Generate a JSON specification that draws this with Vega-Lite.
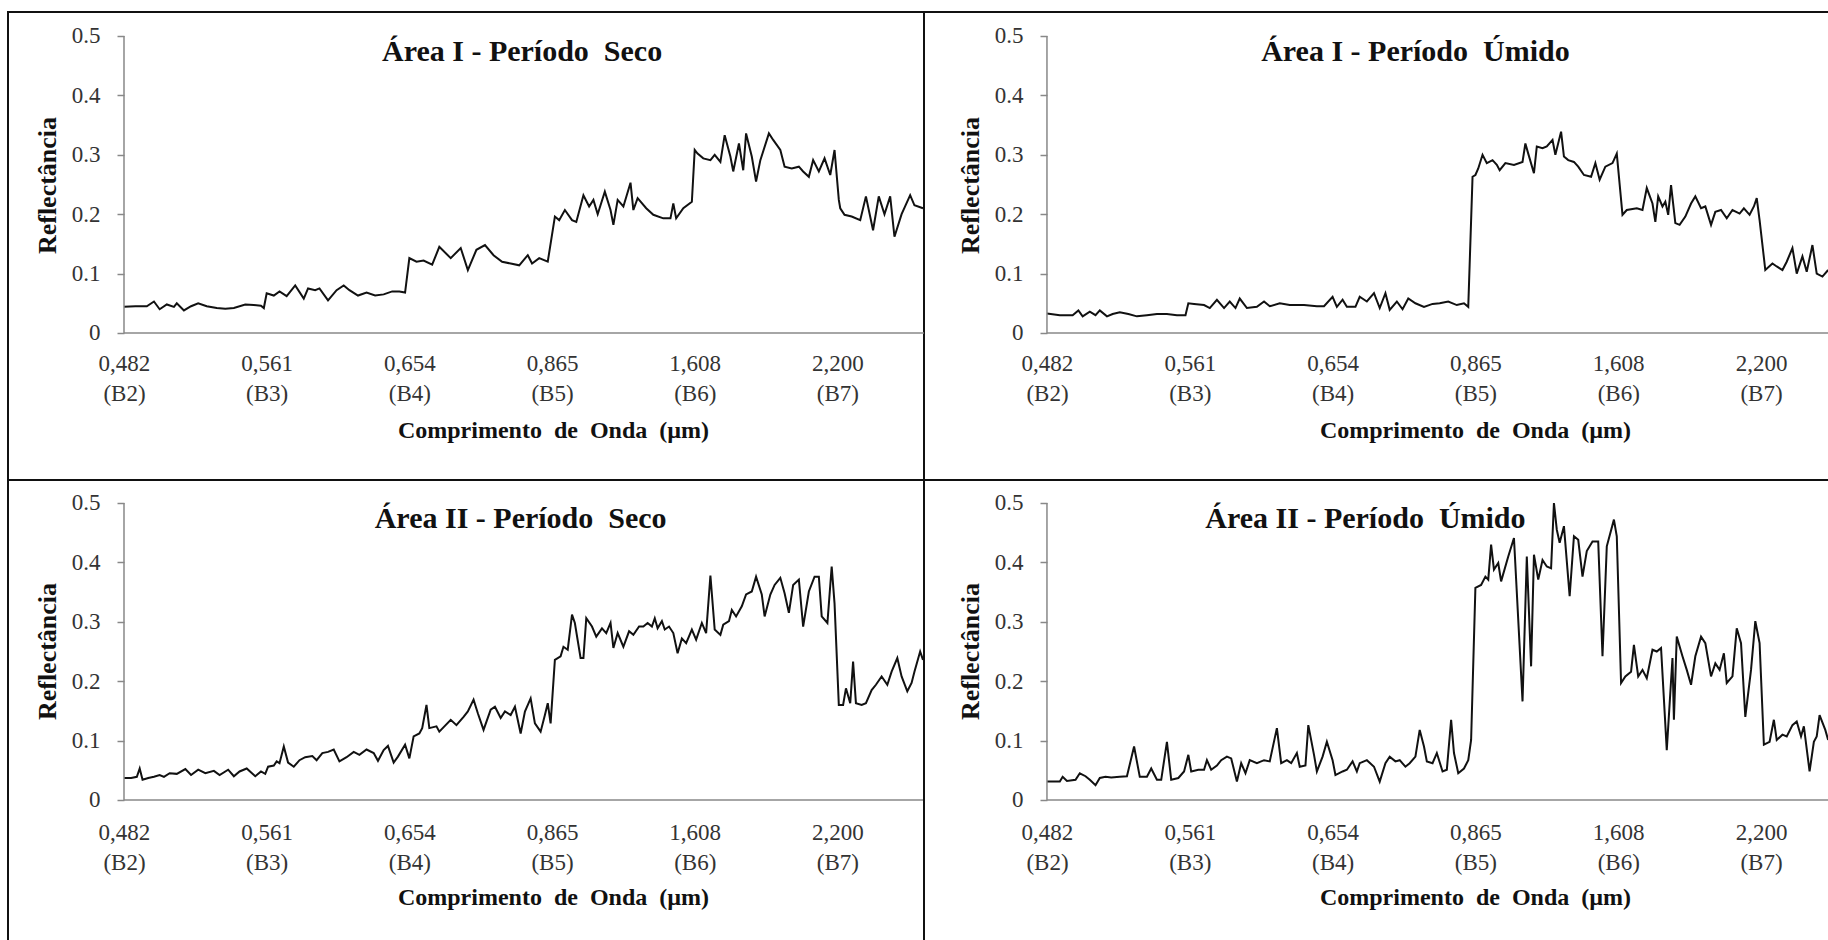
{
  "$schema": "https://vega.github.io/schema/vega-lite/v6.json",
  "background": "white",
  "padding": {"left": 7, "top": 11, "right": 0, "bottom": 0},
  "config": {
    "view": {"stroke": null},
    "font": "Liberation Serif",
    "axis": {"labelFont": "Liberation Serif", "labelFontSize": 23, "labelColor": "#333333", "titleFont": "Liberation Serif", "titleFontWeight": "bold", "titleColor": "#111111", "grid": false, "domain": false}
  },
  "datasets": {
    "spec": [
      {"p":"A","x":0.00,"y":0.044},{"p":"A","x":0.08,"y":0.045},{"p":"A","x":0.16,"y":0.045},{"p":"A","x":0.21,"y":0.053},{"p":"A","x":0.25,"y":0.040},{"p":"A","x":0.30,"y":0.048},{"p":"A","x":0.35,"y":0.044},{"p":"A","x":0.37,"y":0.050},{"p":"A","x":0.42,"y":0.038},{"p":"A","x":0.47,"y":0.045},{"p":"A","x":0.52,"y":0.050},{"p":"A","x":0.58,"y":0.045},{"p":"A","x":0.65,"y":0.042},{"p":"A","x":0.71,"y":0.041},{"p":"A","x":0.77,"y":0.042},{"p":"A","x":0.85,"y":0.048},{"p":"A","x":0.91,"y":0.047},{"p":"A","x":0.96,"y":0.046},{"p":"A","x":0.98,"y":0.042},
      {"p":"A","x":1.00,"y":0.067},{"p":"A","x":1.05,"y":0.063},{"p":"A","x":1.09,"y":0.070},{"p":"A","x":1.14,"y":0.062},{"p":"A","x":1.20,"y":0.080},{"p":"A","x":1.26,"y":0.058},{"p":"A","x":1.29,"y":0.075},{"p":"A","x":1.34,"y":0.072},{"p":"A","x":1.37,"y":0.075},{"p":"A","x":1.43,"y":0.055},{"p":"A","x":1.49,"y":0.072},{"p":"A","x":1.54,"y":0.080},{"p":"A","x":1.58,"y":0.072},{"p":"A","x":1.64,"y":0.063},{"p":"A","x":1.70,"y":0.068},{"p":"A","x":1.76,"y":0.063},{"p":"A","x":1.82,"y":0.065},{"p":"A","x":1.88,"y":0.070},{"p":"A","x":1.93,"y":0.070},{"p":"A","x":1.97,"y":0.068},
      {"p":"A","x":2.00,"y":0.126},{"p":"A","x":2.05,"y":0.120},{"p":"A","x":2.10,"y":0.122},{"p":"A","x":2.16,"y":0.115},{"p":"A","x":2.21,"y":0.145},{"p":"A","x":2.29,"y":0.126},{"p":"A","x":2.36,"y":0.143},{"p":"A","x":2.41,"y":0.106},{"p":"A","x":2.47,"y":0.140},{"p":"A","x":2.53,"y":0.148},{"p":"A","x":2.59,"y":0.131},{"p":"A","x":2.65,"y":0.120},{"p":"A","x":2.71,"y":0.117},{"p":"A","x":2.77,"y":0.114},{"p":"A","x":2.83,"y":0.131},{"p":"A","x":2.86,"y":0.117},{"p":"A","x":2.91,"y":0.126},{"p":"A","x":2.97,"y":0.120},
      {"p":"A","x":3.02,"y":0.196},{"p":"A","x":3.05,"y":0.190},{"p":"A","x":3.09,"y":0.207},{"p":"A","x":3.14,"y":0.190},{"p":"A","x":3.17,"y":0.187},{"p":"A","x":3.22,"y":0.232},{"p":"A","x":3.26,"y":0.213},{"p":"A","x":3.29,"y":0.224},{"p":"A","x":3.32,"y":0.200},{"p":"A","x":3.37,"y":0.238},{"p":"A","x":3.41,"y":0.207},{"p":"A","x":3.43,"y":0.182},{"p":"A","x":3.46,"y":0.224},{"p":"A","x":3.50,"y":0.213},{"p":"A","x":3.55,"y":0.253},{"p":"A","x":3.57,"y":0.207},{"p":"A","x":3.60,"y":0.227},{"p":"A","x":3.66,"y":0.210},{"p":"A","x":3.71,"y":0.199},{"p":"A","x":3.78,"y":0.193},{"p":"A","x":3.83,"y":0.193},{"p":"A","x":3.85,"y":0.218},{"p":"A","x":3.87,"y":0.193},{"p":"A","x":3.92,"y":0.210},{"p":"A","x":3.98,"y":0.221},
      {"p":"A","x":4.00,"y":0.308},{"p":"A","x":4.02,"y":0.302},{"p":"A","x":4.06,"y":0.294},{"p":"A","x":4.11,"y":0.291},{"p":"A","x":4.14,"y":0.300},{"p":"A","x":4.18,"y":0.288},{"p":"A","x":4.21,"y":0.333},{"p":"A","x":4.25,"y":0.297},{"p":"A","x":4.27,"y":0.272},{"p":"A","x":4.31,"y":0.319},{"p":"A","x":4.34,"y":0.274},{"p":"A","x":4.36,"y":0.336},{"p":"A","x":4.40,"y":0.297},{"p":"A","x":4.43,"y":0.255},{"p":"A","x":4.46,"y":0.291},{"p":"A","x":4.52,"y":0.336},{"p":"A","x":4.55,"y":0.325},{"p":"A","x":4.60,"y":0.308},{"p":"A","x":4.63,"y":0.280},{"p":"A","x":4.68,"y":0.277},{"p":"A","x":4.73,"y":0.280},{"p":"A","x":4.76,"y":0.272},{"p":"A","x":4.80,"y":0.263},{"p":"A","x":4.83,"y":0.291},{"p":"A","x":4.87,"y":0.272},{"p":"A","x":4.91,"y":0.294},{"p":"A","x":4.95,"y":0.266},{"p":"A","x":4.98,"y":0.308},
      {"p":"A","x":5.01,"y":0.224},{"p":"A","x":5.02,"y":0.210},{"p":"A","x":5.05,"y":0.199},{"p":"A","x":5.10,"y":0.196},{"p":"A","x":5.16,"y":0.190},{"p":"A","x":5.20,"y":0.230},{"p":"A","x":5.25,"y":0.173},{"p":"A","x":5.29,"y":0.230},{"p":"A","x":5.33,"y":0.200},{"p":"A","x":5.37,"y":0.230},{"p":"A","x":5.40,"y":0.162},{"p":"A","x":5.45,"y":0.200},{"p":"A","x":5.51,"y":0.232},{"p":"A","x":5.54,"y":0.215},{"p":"A","x":5.60,"y":0.210},

      {"p":"B","x":0.00,"y":0.033},{"p":"B","x":0.09,"y":0.030},{"p":"B","x":0.18,"y":0.030},{"p":"B","x":0.22,"y":0.038},{"p":"B","x":0.25,"y":0.028},{"p":"B","x":0.30,"y":0.036},{"p":"B","x":0.34,"y":0.030},{"p":"B","x":0.37,"y":0.038},{"p":"B","x":0.42,"y":0.028},{"p":"B","x":0.46,"y":0.032},{"p":"B","x":0.51,"y":0.035},{"p":"B","x":0.57,"y":0.032},{"p":"B","x":0.63,"y":0.028},{"p":"B","x":0.70,"y":0.030},{"p":"B","x":0.77,"y":0.032},{"p":"B","x":0.84,"y":0.032},{"p":"B","x":0.91,"y":0.030},{"p":"B","x":0.97,"y":0.030},
      {"p":"B","x":0.99,"y":0.050},{"p":"B","x":1.03,"y":0.049},{"p":"B","x":1.10,"y":0.047},{"p":"B","x":1.14,"y":0.042},{"p":"B","x":1.19,"y":0.056},{"p":"B","x":1.24,"y":0.042},{"p":"B","x":1.28,"y":0.053},{"p":"B","x":1.32,"y":0.042},{"p":"B","x":1.35,"y":0.058},{"p":"B","x":1.40,"y":0.042},{"p":"B","x":1.47,"y":0.044},{"p":"B","x":1.52,"y":0.053},{"p":"B","x":1.56,"y":0.045},{"p":"B","x":1.63,"y":0.050},{"p":"B","x":1.70,"y":0.047},{"p":"B","x":1.80,"y":0.047},{"p":"B","x":1.89,"y":0.045},{"p":"B","x":1.94,"y":0.045},{"p":"B","x":2.00,"y":0.061},
      {"p":"B","x":2.03,"y":0.044},{"p":"B","x":2.07,"y":0.056},{"p":"B","x":2.10,"y":0.044},{"p":"B","x":2.16,"y":0.044},{"p":"B","x":2.19,"y":0.061},{"p":"B","x":2.24,"y":0.053},{"p":"B","x":2.29,"y":0.067},{"p":"B","x":2.33,"y":0.042},{"p":"B","x":2.37,"y":0.067},{"p":"B","x":2.40,"y":0.039},{"p":"B","x":2.45,"y":0.053},{"p":"B","x":2.49,"y":0.040},{"p":"B","x":2.53,"y":0.058},{"p":"B","x":2.58,"y":0.050},{"p":"B","x":2.64,"y":0.044},{"p":"B","x":2.70,"y":0.049},{"p":"B","x":2.75,"y":0.050},{"p":"B","x":2.81,"y":0.053},{"p":"B","x":2.87,"y":0.047},{"p":"B","x":2.92,"y":0.050},{"p":"B","x":2.95,"y":0.044},
      {"p":"B","x":2.98,"y":0.263},{"p":"B","x":3.00,"y":0.266},{"p":"B","x":3.02,"y":0.277},{"p":"B","x":3.05,"y":0.300},{"p":"B","x":3.08,"y":0.286},{"p":"B","x":3.12,"y":0.291},{"p":"B","x":3.15,"y":0.283},{"p":"B","x":3.17,"y":0.274},{"p":"B","x":3.21,"y":0.286},{"p":"B","x":3.27,"y":0.283},{"p":"B","x":3.33,"y":0.288},{"p":"B","x":3.35,"y":0.319},{"p":"B","x":3.37,"y":0.302},{"p":"B","x":3.41,"y":0.269},{"p":"B","x":3.43,"y":0.314},{"p":"B","x":3.47,"y":0.311},{"p":"B","x":3.50,"y":0.314},{"p":"B","x":3.54,"y":0.325},{"p":"B","x":3.56,"y":0.300},{"p":"B","x":3.60,"y":0.339},{"p":"B","x":3.62,"y":0.297},{"p":"B","x":3.65,"y":0.291},{"p":"B","x":3.69,"y":0.288},{"p":"B","x":3.72,"y":0.280},{"p":"B","x":3.76,"y":0.266},{"p":"B","x":3.81,"y":0.263},{"p":"B","x":3.84,"y":0.286},{"p":"B","x":3.87,"y":0.258},{"p":"B","x":3.91,"y":0.280},{"p":"B","x":3.96,"y":0.286},{"p":"B","x":3.99,"y":0.302},
      {"p":"B","x":4.03,"y":0.199},{"p":"B","x":4.06,"y":0.207},{"p":"B","x":4.13,"y":0.210},{"p":"B","x":4.17,"y":0.207},{"p":"B","x":4.20,"y":0.244},{"p":"B","x":4.24,"y":0.218},{"p":"B","x":4.26,"y":0.187},{"p":"B","x":4.28,"y":0.230},{"p":"B","x":4.31,"y":0.213},{"p":"B","x":4.33,"y":0.221},{"p":"B","x":4.35,"y":0.199},{"p":"B","x":4.37,"y":0.249},{"p":"B","x":4.40,"y":0.185},{"p":"B","x":4.43,"y":0.182},{"p":"B","x":4.47,"y":0.196},{"p":"B","x":4.51,"y":0.218},{"p":"B","x":4.54,"y":0.230},{"p":"B","x":4.58,"y":0.210},{"p":"B","x":4.61,"y":0.213},{"p":"B","x":4.65,"y":0.182},{"p":"B","x":4.68,"y":0.204},{"p":"B","x":4.72,"y":0.207},{"p":"B","x":4.76,"y":0.193},{"p":"B","x":4.80,"y":0.207},{"p":"B","x":4.85,"y":0.201},{"p":"B","x":4.88,"y":0.210},{"p":"B","x":4.92,"y":0.199},{"p":"B","x":4.95,"y":0.213},{"p":"B","x":4.97,"y":0.227},{"p":"B","x":4.99,"y":0.190},
      {"p":"B","x":5.03,"y":0.106},{"p":"B","x":5.08,"y":0.117},{"p":"B","x":5.11,"y":0.112},{"p":"B","x":5.15,"y":0.106},{"p":"B","x":5.18,"y":0.120},{"p":"B","x":5.22,"y":0.143},{"p":"B","x":5.25,"y":0.100},{"p":"B","x":5.29,"y":0.129},{"p":"B","x":5.32,"y":0.103},{"p":"B","x":5.36,"y":0.148},{"p":"B","x":5.39,"y":0.100},{"p":"B","x":5.43,"y":0.095},{"p":"B","x":5.47,"y":0.106},

      {"p":"C","x":0.00,"y":0.037},{"p":"C","x":0.05,"y":0.037},{"p":"C","x":0.09,"y":0.039},{"p":"C","x":0.11,"y":0.053},{"p":"C","x":0.13,"y":0.034},{"p":"C","x":0.17,"y":0.037},{"p":"C","x":0.21,"y":0.039},{"p":"C","x":0.25,"y":0.042},{"p":"C","x":0.28,"y":0.039},{"p":"C","x":0.32,"y":0.045},{"p":"C","x":0.37,"y":0.044},{"p":"C","x":0.43,"y":0.052},{"p":"C","x":0.47,"y":0.042},{"p":"C","x":0.52,"y":0.051},{"p":"C","x":0.57,"y":0.045},{"p":"C","x":0.63,"y":0.049},{"p":"C","x":0.67,"y":0.042},{"p":"C","x":0.73,"y":0.051},{"p":"C","x":0.77,"y":0.040},{"p":"C","x":0.81,"y":0.048},{"p":"C","x":0.86,"y":0.053},{"p":"C","x":0.92,"y":0.040},{"p":"C","x":0.96,"y":0.048},{"p":"C","x":0.99,"y":0.044},
      {"p":"C","x":1.01,"y":0.056},{"p":"C","x":1.05,"y":0.058},{"p":"C","x":1.07,"y":0.065},{"p":"C","x":1.09,"y":0.062},{"p":"C","x":1.12,"y":0.090},{"p":"C","x":1.15,"y":0.063},{"p":"C","x":1.19,"y":0.056},{"p":"C","x":1.23,"y":0.067},{"p":"C","x":1.27,"y":0.072},{"p":"C","x":1.32,"y":0.074},{"p":"C","x":1.35,"y":0.067},{"p":"C","x":1.39,"y":0.079},{"p":"C","x":1.43,"y":0.081},{"p":"C","x":1.47,"y":0.085},{"p":"C","x":1.51,"y":0.065},{"p":"C","x":1.56,"y":0.072},{"p":"C","x":1.61,"y":0.081},{"p":"C","x":1.65,"y":0.076},{"p":"C","x":1.70,"y":0.085},{"p":"C","x":1.75,"y":0.079},{"p":"C","x":1.78,"y":0.066},{"p":"C","x":1.82,"y":0.084},{"p":"C","x":1.85,"y":0.091},{"p":"C","x":1.89,"y":0.063},{"p":"C","x":1.92,"y":0.073},{"p":"C","x":1.97,"y":0.093},{"p":"C","x":2.00,"y":0.070},
      {"p":"C","x":2.03,"y":0.107},{"p":"C","x":2.07,"y":0.112},{"p":"C","x":2.09,"y":0.121},{"p":"C","x":2.12,"y":0.160},{"p":"C","x":2.14,"y":0.121},{"p":"C","x":2.19,"y":0.124},{"p":"C","x":2.21,"y":0.115},{"p":"C","x":2.29,"y":0.135},{"p":"C","x":2.33,"y":0.126},{"p":"C","x":2.38,"y":0.140},{"p":"C","x":2.41,"y":0.149},{"p":"C","x":2.45,"y":0.169},{"p":"C","x":2.48,"y":0.146},{"p":"C","x":2.52,"y":0.118},{"p":"C","x":2.57,"y":0.152},{"p":"C","x":2.60,"y":0.157},{"p":"C","x":2.64,"y":0.138},{"p":"C","x":2.67,"y":0.149},{"p":"C","x":2.71,"y":0.143},{"p":"C","x":2.74,"y":0.157},{"p":"C","x":2.78,"y":0.112},{"p":"C","x":2.81,"y":0.149},{"p":"C","x":2.85,"y":0.171},{"p":"C","x":2.88,"y":0.129},{"p":"C","x":2.92,"y":0.115},{"p":"C","x":2.95,"y":0.143},{"p":"C","x":2.97,"y":0.163},{"p":"C","x":2.99,"y":0.129},
      {"p":"C","x":3.02,"y":0.236},{"p":"C","x":3.06,"y":0.242},{"p":"C","x":3.08,"y":0.258},{"p":"C","x":3.11,"y":0.253},{"p":"C","x":3.14,"y":0.312},{"p":"C","x":3.16,"y":0.298},{"p":"C","x":3.20,"y":0.239},{"p":"C","x":3.22,"y":0.239},{"p":"C","x":3.24,"y":0.306},{"p":"C","x":3.28,"y":0.292},{"p":"C","x":3.31,"y":0.275},{"p":"C","x":3.35,"y":0.289},{"p":"C","x":3.38,"y":0.281},{"p":"C","x":3.41,"y":0.298},{"p":"C","x":3.43,"y":0.256},{"p":"C","x":3.46,"y":0.281},{"p":"C","x":3.50,"y":0.258},{"p":"C","x":3.54,"y":0.284},{"p":"C","x":3.57,"y":0.278},{"p":"C","x":3.61,"y":0.292},{"p":"C","x":3.64,"y":0.292},{"p":"C","x":3.67,"y":0.298},{"p":"C","x":3.70,"y":0.292},{"p":"C","x":3.72,"y":0.306},{"p":"C","x":3.74,"y":0.289},{"p":"C","x":3.77,"y":0.301},{"p":"C","x":3.79,"y":0.287},{"p":"C","x":3.82,"y":0.292},{"p":"C","x":3.85,"y":0.281},{"p":"C","x":3.88,"y":0.247},{"p":"C","x":3.91,"y":0.272},{"p":"C","x":3.94,"y":0.264},{"p":"C","x":3.98,"y":0.287},
      {"p":"C","x":4.01,"y":0.270},{"p":"C","x":4.05,"y":0.298},{"p":"C","x":4.08,"y":0.281},{"p":"C","x":4.11,"y":0.378},{"p":"C","x":4.14,"y":0.287},{"p":"C","x":4.18,"y":0.278},{"p":"C","x":4.20,"y":0.295},{"p":"C","x":4.24,"y":0.301},{"p":"C","x":4.26,"y":0.320},{"p":"C","x":4.29,"y":0.309},{"p":"C","x":4.33,"y":0.326},{"p":"C","x":4.36,"y":0.346},{"p":"C","x":4.40,"y":0.351},{"p":"C","x":4.43,"y":0.376},{"p":"C","x":4.47,"y":0.346},{"p":"C","x":4.49,"y":0.309},{"p":"C","x":4.53,"y":0.346},{"p":"C","x":4.56,"y":0.362},{"p":"C","x":4.60,"y":0.374},{"p":"C","x":4.63,"y":0.348},{"p":"C","x":4.66,"y":0.315},{"p":"C","x":4.69,"y":0.362},{"p":"C","x":4.73,"y":0.371},{"p":"C","x":4.76,"y":0.292},{"p":"C","x":4.80,"y":0.351},{"p":"C","x":4.84,"y":0.376},{"p":"C","x":4.87,"y":0.376},{"p":"C","x":4.89,"y":0.309},{"p":"C","x":4.93,"y":0.298},{"p":"C","x":4.96,"y":0.393},{"p":"C","x":4.98,"y":0.331},
      {"p":"C","x":5.01,"y":0.160},{"p":"C","x":5.04,"y":0.160},{"p":"C","x":5.06,"y":0.188},{"p":"C","x":5.09,"y":0.163},{"p":"C","x":5.11,"y":0.233},{"p":"C","x":5.13,"y":0.163},{"p":"C","x":5.17,"y":0.160},{"p":"C","x":5.20,"y":0.163},{"p":"C","x":5.24,"y":0.185},{"p":"C","x":5.27,"y":0.194},{"p":"C","x":5.31,"y":0.208},{"p":"C","x":5.35,"y":0.194},{"p":"C","x":5.38,"y":0.216},{"p":"C","x":5.42,"y":0.239},{"p":"C","x":5.45,"y":0.208},{"p":"C","x":5.49,"y":0.183},{"p":"C","x":5.52,"y":0.197},{"p":"C","x":5.54,"y":0.216},{"p":"C","x":5.58,"y":0.250},{"p":"C","x":5.60,"y":0.236},

      {"p":"D","x":0.00,"y":0.031},{"p":"D","x":0.09,"y":0.031},{"p":"D","x":0.11,"y":0.039},{"p":"D","x":0.14,"y":0.032},{"p":"D","x":0.20,"y":0.034},{"p":"D","x":0.23,"y":0.045},{"p":"D","x":0.27,"y":0.040},{"p":"D","x":0.30,"y":0.034},{"p":"D","x":0.34,"y":0.025},{"p":"D","x":0.37,"y":0.037},{"p":"D","x":0.41,"y":0.039},{"p":"D","x":0.45,"y":0.038},{"p":"D","x":0.51,"y":0.039},{"p":"D","x":0.56,"y":0.040},{"p":"D","x":0.61,"y":0.090},{"p":"D","x":0.65,"y":0.039},{"p":"D","x":0.70,"y":0.039},{"p":"D","x":0.73,"y":0.053},{"p":"D","x":0.77,"y":0.034},{"p":"D","x":0.80,"y":0.034},{"p":"D","x":0.84,"y":0.098},{"p":"D","x":0.87,"y":0.034},{"p":"D","x":0.92,"y":0.037},{"p":"D","x":0.96,"y":0.048},{"p":"D","x":0.99,"y":0.076},
      {"p":"D","x":1.01,"y":0.048},{"p":"D","x":1.06,"y":0.051},{"p":"D","x":1.10,"y":0.051},{"p":"D","x":1.12,"y":0.067},{"p":"D","x":1.15,"y":0.051},{"p":"D","x":1.19,"y":0.058},{"p":"D","x":1.22,"y":0.067},{"p":"D","x":1.26,"y":0.073},{"p":"D","x":1.29,"y":0.070},{"p":"D","x":1.33,"y":0.031},{"p":"D","x":1.36,"y":0.062},{"p":"D","x":1.39,"y":0.045},{"p":"D","x":1.42,"y":0.067},{"p":"D","x":1.47,"y":0.062},{"p":"D","x":1.52,"y":0.067},{"p":"D","x":1.56,"y":0.065},{"p":"D","x":1.61,"y":0.121},{"p":"D","x":1.64,"y":0.062},{"p":"D","x":1.68,"y":0.067},{"p":"D","x":1.71,"y":0.062},{"p":"D","x":1.75,"y":0.079},{"p":"D","x":1.77,"y":0.056},{"p":"D","x":1.81,"y":0.058},{"p":"D","x":1.83,"y":0.126},{"p":"D","x":1.87,"y":0.076},{"p":"D","x":1.89,"y":0.048},{"p":"D","x":1.93,"y":0.073},{"p":"D","x":1.96,"y":0.098},{"p":"D","x":2.00,"y":0.067},
      {"p":"D","x":2.02,"y":0.042},{"p":"D","x":2.07,"y":0.048},{"p":"D","x":2.10,"y":0.051},{"p":"D","x":2.14,"y":0.065},{"p":"D","x":2.17,"y":0.048},{"p":"D","x":2.19,"y":0.062},{"p":"D","x":2.24,"y":0.067},{"p":"D","x":2.29,"y":0.056},{"p":"D","x":2.33,"y":0.031},{"p":"D","x":2.37,"y":0.062},{"p":"D","x":2.40,"y":0.073},{"p":"D","x":2.44,"y":0.065},{"p":"D","x":2.47,"y":0.067},{"p":"D","x":2.51,"y":0.056},{"p":"D","x":2.54,"y":0.062},{"p":"D","x":2.58,"y":0.073},{"p":"D","x":2.61,"y":0.118},{"p":"D","x":2.64,"y":0.090},{"p":"D","x":2.66,"y":0.065},{"p":"D","x":2.70,"y":0.062},{"p":"D","x":2.73,"y":0.079},{"p":"D","x":2.77,"y":0.048},{"p":"D","x":2.80,"y":0.051},{"p":"D","x":2.83,"y":0.135},{"p":"D","x":2.85,"y":0.079},{"p":"D","x":2.88,"y":0.045},{"p":"D","x":2.92,"y":0.053},{"p":"D","x":2.95,"y":0.067},{"p":"D","x":2.97,"y":0.101},
      {"p":"D","x":3.00,"y":0.357},{"p":"D","x":3.04,"y":0.362},{"p":"D","x":3.07,"y":0.376},{"p":"D","x":3.09,"y":0.371},{"p":"D","x":3.11,"y":0.430},{"p":"D","x":3.13,"y":0.388},{"p":"D","x":3.16,"y":0.399},{"p":"D","x":3.18,"y":0.368},{"p":"D","x":3.23,"y":0.410},{"p":"D","x":3.27,"y":0.441},{"p":"D","x":3.33,"y":0.166},{"p":"D","x":3.36,"y":0.410},{"p":"D","x":3.39,"y":0.225},{"p":"D","x":3.41,"y":0.413},{"p":"D","x":3.44,"y":0.371},{"p":"D","x":3.47,"y":0.404},{"p":"D","x":3.50,"y":0.393},{"p":"D","x":3.53,"y":0.390},{"p":"D","x":3.55,"y":0.500},{"p":"D","x":3.57,"y":0.455},{"p":"D","x":3.59,"y":0.433},{"p":"D","x":3.62,"y":0.461},{"p":"D","x":3.66,"y":0.343},{"p":"D","x":3.69,"y":0.444},{"p":"D","x":3.72,"y":0.438},{"p":"D","x":3.75,"y":0.376},{"p":"D","x":3.78,"y":0.419},{"p":"D","x":3.82,"y":0.435},{"p":"D","x":3.86,"y":0.435},{"p":"D","x":3.89,"y":0.242},{"p":"D","x":3.92,"y":0.427},{"p":"D","x":3.97,"y":0.472},{"p":"D","x":3.99,"y":0.444},
      {"p":"D","x":4.02,"y":0.197},{"p":"D","x":4.05,"y":0.208},{"p":"D","x":4.09,"y":0.216},{"p":"D","x":4.11,"y":0.261},{"p":"D","x":4.14,"y":0.208},{"p":"D","x":4.17,"y":0.219},{"p":"D","x":4.20,"y":0.205},{"p":"D","x":4.24,"y":0.253},{"p":"D","x":4.27,"y":0.250},{"p":"D","x":4.30,"y":0.256},{"p":"D","x":4.34,"y":0.084},{"p":"D","x":4.38,"y":0.239},{"p":"D","x":4.39,"y":0.135},{"p":"D","x":4.41,"y":0.275},{"p":"D","x":4.45,"y":0.242},{"p":"D","x":4.48,"y":0.219},{"p":"D","x":4.51,"y":0.194},{"p":"D","x":4.54,"y":0.242},{"p":"D","x":4.58,"y":0.275},{"p":"D","x":4.61,"y":0.264},{"p":"D","x":4.65,"y":0.208},{"p":"D","x":4.68,"y":0.230},{"p":"D","x":4.71,"y":0.219},{"p":"D","x":4.74,"y":0.247},{"p":"D","x":4.76,"y":0.197},{"p":"D","x":4.80,"y":0.208},{"p":"D","x":4.83,"y":0.289},{"p":"D","x":4.86,"y":0.264},{"p":"D","x":4.89,"y":0.140},{"p":"D","x":4.93,"y":0.219},{"p":"D","x":4.96,"y":0.301},{"p":"D","x":4.99,"y":0.264},
      {"p":"D","x":5.02,"y":0.093},{"p":"D","x":5.06,"y":0.098},{"p":"D","x":5.09,"y":0.135},{"p":"D","x":5.11,"y":0.101},{"p":"D","x":5.15,"y":0.110},{"p":"D","x":5.18,"y":0.107},{"p":"D","x":5.22,"y":0.126},{"p":"D","x":5.25,"y":0.132},{"p":"D","x":5.28,"y":0.107},{"p":"D","x":5.30,"y":0.124},{"p":"D","x":5.34,"y":0.048},{"p":"D","x":5.37,"y":0.098},{"p":"D","x":5.39,"y":0.107},{"p":"D","x":5.41,"y":0.143},{"p":"D","x":5.45,"y":0.118},{"p":"D","x":5.47,"y":0.101}
    ]
  },
  "columns": 2,
  "spacing": {"row": 0, "column": 0},
  "bounds": "flush",
  "concat": [
    {
      "width": 916, "height": 468,
      "view": {"stroke": "#111111", "strokeWidth": 2},
      "layer": [
        {"data": {"name": "spec"}, "transform": [{"filter": "datum.p == 'A'"}],
         "mark": {"type": "line", "color": "#111111", "strokeWidth": 2, "clip": true},
         "encoding": {
           "x": {"field": "x", "type": "quantitative", "scale": {"domain": [-0.813, 5.607], "nice": false, "zero": false},
                 "axis": {"orient": "bottom", "offset": -147, "values": [0,1,2,3,4,5], "ticks": false, "labelPadding": 19, "labelLineHeight": 30, "labelBaseline": "top",
                          "labelExpr": "datum.value == 0 ? ['0,482','(B2)'] : datum.value == 1 ? ['0,561','(B3)'] : datum.value == 2 ? ['0,654','(B4)'] : datum.value == 3 ? ['0,865','(B5)'] : datum.value == 4 ? ['1,608','(B6)'] : ['2,200','(B7)']",
                          "title": "Comprimento \u00a0de \u00a0Onda \u00a0(µm)", "titleFontSize": 24, "titleX": 545, "titleY": 97, "titleBaseline": "middle", "titleAlign": "center"}},
           "y": {"field": "y", "type": "quantitative", "scale": {"domain": [-0.2475, 0.5404], "nice": false, "zero": false},
                 "axis": {"orient": "left", "offset": -116, "values": [0,0.1,0.2,0.3,0.4,0.5], "ticks": true, "tickSize": 7, "tickColor": "#888888", "tickWidth": 1.5, "labelPadding": 17,
                          "labelExpr": "datum.value == 0 ? '0' : format(datum.value, '.1f')",
                          "title": "Reflectância", "titleFontSize": 26, "titleX": -77, "titleY": 173, "titleAngle": 270, "titleBaseline": "middle", "titleAlign": "center"}}
         }},
        {"data": {"values": [{}]}, "mark": {"type": "rule", "color": "#888888", "strokeWidth": 1.5}, "encoding": {"x": {"datum": 0, "type": "quantitative"}, "y": {"datum": 0, "type": "quantitative"}, "y2": {"datum": 0.5}}},
        {"data": {"values": [{}]}, "mark": {"type": "rule", "color": "#888888", "strokeWidth": 1.5}, "encoding": {"x": {"datum": 0, "type": "quantitative"}, "x2": {"datum": 5.607}, "y": {"datum": 0, "type": "quantitative"}}},
        {"data": {"values": [{}]}, "mark": {"type": "text", "font": "Liberation Serif", "fontWeight": "bold", "fontSize": 30, "color": "#111111", "align": "center", "baseline": "middle"},
         "encoding": {"x": {"datum": 2.79, "type": "quantitative"}, "y": {"datum": 0.473, "type": "quantitative"}, "text": {"value": "Área I - Período \u00a0Seco"}}}
      ]
    },
    {
      "width": 904, "height": 468,
      "layer": [
        {"data": {"name": "spec"}, "transform": [{"filter": "datum.p == 'B'"}],
         "mark": {"type": "line", "color": "#111111", "strokeWidth": 2, "clip": true},
         "encoding": {
           "x": {"field": "x", "type": "quantitative", "scale": {"domain": [-0.861, 5.469], "nice": false, "zero": false},
                 "axis": {"orient": "bottom", "offset": -147, "values": [0,1,2,3,4,5], "ticks": false, "labelPadding": 19, "labelLineHeight": 30, "labelBaseline": "top",
                          "labelExpr": "datum.value == 0 ? ['0,482','(B2)'] : datum.value == 1 ? ['0,561','(B3)'] : datum.value == 2 ? ['0,654','(B4)'] : datum.value == 3 ? ['0,865','(B5)'] : datum.value == 4 ? ['1,608','(B6)'] : ['2,200','(B7)']",
                          "title": "Comprimento \u00a0de \u00a0Onda \u00a0(µm)", "titleFontSize": 24, "titleX": 551, "titleY": 97, "titleBaseline": "middle", "titleAlign": "center"}},
           "y": {"field": "y", "type": "quantitative", "scale": {"domain": [-0.2475, 0.5404], "nice": false, "zero": false},
                 "axis": {"orient": "left", "offset": -123, "values": [0,0.1,0.2,0.3,0.4,0.5], "ticks": true, "tickSize": 7, "tickColor": "#888888", "tickWidth": 1.5, "labelPadding": 17,
                          "labelExpr": "datum.value == 0 ? '0' : format(datum.value, '.1f')",
                          "title": "Reflectância", "titleFontSize": 26, "titleX": -77, "titleY": 173, "titleAngle": 270, "titleBaseline": "middle", "titleAlign": "center"}}
         }},
        {"data": {"values": [{}]}, "mark": {"type": "rule", "color": "#888888", "strokeWidth": 1.5}, "encoding": {"x": {"datum": 0, "type": "quantitative"}, "y": {"datum": 0, "type": "quantitative"}, "y2": {"datum": 0.5}}},
        {"data": {"values": [{}]}, "mark": {"type": "rule", "color": "#888888", "strokeWidth": 1.5}, "encoding": {"x": {"datum": 0, "type": "quantitative"}, "x2": {"datum": 5.469}, "y": {"datum": 0, "type": "quantitative"}}},
        {"data": {"values": [{}]}, "mark": {"type": "rule", "color": "#111111", "strokeWidth": 2}, "encoding": {"x": {"datum": -0.861, "type": "quantitative"}, "x2": {"datum": 5.469}, "y": {"datum": 0.5404, "type": "quantitative"}}},
        {"data": {"values": [{}]}, "mark": {"type": "rule", "color": "#111111", "strokeWidth": 2}, "encoding": {"x": {"datum": -0.861, "type": "quantitative"}, "x2": {"datum": 5.469}, "y": {"datum": -0.2475, "type": "quantitative"}}},
        {"data": {"values": [{}]}, "mark": {"type": "text", "font": "Liberation Serif", "fontWeight": "bold", "fontSize": 30, "color": "#111111", "align": "center", "baseline": "middle"},
         "encoding": {"x": {"datum": 2.58, "type": "quantitative"}, "y": {"datum": 0.473, "type": "quantitative"}, "text": {"value": "Área I - Período \u00a0Úmido"}}}
      ]
    },
    {
      "width": 916, "height": 460,
      "layer": [
        {"data": {"name": "spec"}, "transform": [{"filter": "datum.p == 'C'"}],
         "mark": {"type": "line", "color": "#111111", "strokeWidth": 2, "clip": true},
         "encoding": {
           "x": {"field": "x", "type": "quantitative", "scale": {"domain": [-0.813, 5.607], "nice": false, "zero": false},
                 "axis": {"orient": "bottom", "offset": -140, "values": [0,1,2,3,4,5], "ticks": false, "labelPadding": 21, "labelLineHeight": 30, "labelBaseline": "top",
                          "labelExpr": "datum.value == 0 ? ['0,482','(B2)'] : datum.value == 1 ? ['0,561','(B3)'] : datum.value == 2 ? ['0,654','(B4)'] : datum.value == 3 ? ['0,865','(B5)'] : datum.value == 4 ? ['1,608','(B6)'] : ['2,200','(B7)']",
                          "title": "Comprimento \u00a0de \u00a0Onda \u00a0(µm)", "titleFontSize": 24, "titleX": 545, "titleY": 97, "titleBaseline": "middle", "titleAlign": "center"}},
           "y": {"field": "y", "type": "quantitative", "scale": {"domain": [-0.2357, 0.5387], "nice": false, "zero": false},
                 "axis": {"orient": "left", "offset": -116, "values": [0,0.1,0.2,0.3,0.4,0.5], "ticks": true, "tickSize": 7, "tickColor": "#888888", "tickWidth": 1.5, "labelPadding": 17,
                          "labelExpr": "datum.value == 0 ? '0' : format(datum.value, '.1f')",
                          "title": "Reflectância", "titleFontSize": 26, "titleX": -77, "titleY": 171, "titleAngle": 270, "titleBaseline": "middle", "titleAlign": "center"}}
         }},
        {"data": {"values": [{}]}, "mark": {"type": "rule", "color": "#888888", "strokeWidth": 1.5}, "encoding": {"x": {"datum": 0, "type": "quantitative"}, "y": {"datum": 0, "type": "quantitative"}, "y2": {"datum": 0.5}}},
        {"data": {"values": [{}]}, "mark": {"type": "rule", "color": "#888888", "strokeWidth": 1.5}, "encoding": {"x": {"datum": 0, "type": "quantitative"}, "x2": {"datum": 5.607}, "y": {"datum": 0, "type": "quantitative"}}},
        {"data": {"values": [{}]}, "mark": {"type": "rule", "color": "#111111", "strokeWidth": 2}, "encoding": {"x": {"datum": -0.813, "type": "quantitative"}, "y": {"datum": -0.2357, "type": "quantitative"}, "y2": {"datum": 0.5387}}},
        {"data": {"values": [{}]}, "mark": {"type": "rule", "color": "#111111", "strokeWidth": 2}, "encoding": {"x": {"datum": 5.607, "type": "quantitative"}, "y": {"datum": -0.2357, "type": "quantitative"}, "y2": {"datum": 0.5387}}},
        {"data": {"values": [{}]}, "mark": {"type": "text", "font": "Liberation Serif", "fontWeight": "bold", "fontSize": 30, "color": "#111111", "align": "center", "baseline": "middle"},
         "encoding": {"x": {"datum": 2.78, "type": "quantitative"}, "y": {"datum": 0.473, "type": "quantitative"}, "text": {"value": "Área II - Período \u00a0Seco"}}}
      ]
    },
    {
      "width": 904, "height": 460,
      "layer": [
        {"data": {"name": "spec"}, "transform": [{"filter": "datum.p == 'D'"}],
         "mark": {"type": "line", "color": "#111111", "strokeWidth": 2, "clip": true},
         "encoding": {
           "x": {"field": "x", "type": "quantitative", "scale": {"domain": [-0.861, 5.469], "nice": false, "zero": false},
                 "axis": {"orient": "bottom", "offset": -140, "values": [0,1,2,3,4,5], "ticks": false, "labelPadding": 21, "labelLineHeight": 30, "labelBaseline": "top",
                          "labelExpr": "datum.value == 0 ? ['0,482','(B2)'] : datum.value == 1 ? ['0,561','(B3)'] : datum.value == 2 ? ['0,654','(B4)'] : datum.value == 3 ? ['0,865','(B5)'] : datum.value == 4 ? ['1,608','(B6)'] : ['2,200','(B7)']",
                          "title": "Comprimento \u00a0de \u00a0Onda \u00a0(µm)", "titleFontSize": 24, "titleX": 551, "titleY": 97, "titleBaseline": "middle", "titleAlign": "center"}},
           "y": {"field": "y", "type": "quantitative", "scale": {"domain": [-0.2357, 0.5387], "nice": false, "zero": false},
                 "axis": {"orient": "left", "offset": -123, "values": [0,0.1,0.2,0.3,0.4,0.5], "ticks": true, "tickSize": 7, "tickColor": "#888888", "tickWidth": 1.5, "labelPadding": 17,
                          "labelExpr": "datum.value == 0 ? '0' : format(datum.value, '.1f')",
                          "title": "Reflectância", "titleFontSize": 26, "titleX": -77, "titleY": 171, "titleAngle": 270, "titleBaseline": "middle", "titleAlign": "center"}}
         }},
        {"data": {"values": [{}]}, "mark": {"type": "rule", "color": "#888888", "strokeWidth": 1.5}, "encoding": {"x": {"datum": 0, "type": "quantitative"}, "y": {"datum": 0, "type": "quantitative"}, "y2": {"datum": 0.5}}},
        {"data": {"values": [{}]}, "mark": {"type": "rule", "color": "#888888", "strokeWidth": 1.5}, "encoding": {"x": {"datum": 0, "type": "quantitative"}, "x2": {"datum": 5.469}, "y": {"datum": 0, "type": "quantitative"}}},
        {"data": {"values": [{}]}, "mark": {"type": "text", "font": "Liberation Serif", "fontWeight": "bold", "fontSize": 30, "color": "#111111", "align": "center", "baseline": "middle"},
         "encoding": {"x": {"datum": 2.23, "type": "quantitative"}, "y": {"datum": 0.473, "type": "quantitative"}, "text": {"value": "Área II - Período \u00a0Úmido"}}}
      ]
    }
  ]
}
